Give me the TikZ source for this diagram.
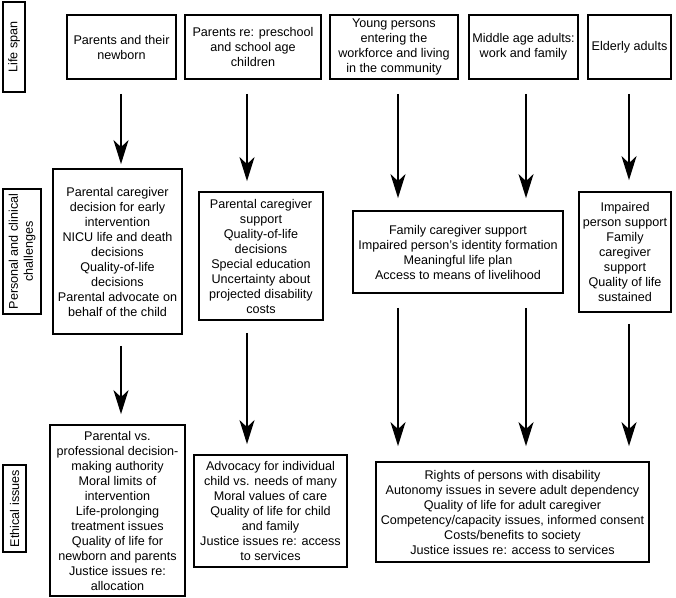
\documentclass[tikz,border=0pt]{standalone}
\usepackage{fontspec}
\setmainfont{Liberation Sans}
\usetikzlibrary{arrows.meta}
\begin{document}
\begin{tikzpicture}[x=1pt,y=-1pt,
  box/.style={draw,line width=1.8pt,align=center,inner sep=0pt,font=\fontsize{12.6}{15}\selectfont},
  side/.style={box,rotate=90},
  arr/.style={line width=1.8pt,-{Stealth[length=24pt,width=15pt,inset=7pt]}}]
\useasboundingbox (0,0) rectangle (676,597);
% column positions
\coordinate (c1) at (121,0);
\coordinate (c2) at (247,0);
\coordinate (c3) at (398,0);
\coordinate (c4) at (526,0);
\coordinate (c5) at (629,0);
% side labels
\node[side,minimum width=90,minimum height=22] (L1) at (14,47) {Life span};
\node[side,minimum width=125,minimum height=38] (L2) at (22,251.5) {Personal and clinical\\challenges};
\node[side,minimum width=87,minimum height=23] (L3) at (14.5,508.5) {Ethical issues};
% top row
\node[box,minimum width=109,minimum height=64] (T1) at (121.5,47) {Parents and their\\newborn};
\node[box,minimum width=136,minimum height=64] (T2) at (253,47) {Parents re: preschool\\and school age\\children};
\node[box,minimum width=128,minimum height=64] (T3) at (394,47) {Young persons\\entering the\\workforce and living\\in the community};
\node[box,minimum width=109,minimum height=64] (T4) at (523.5,47) {Middle age adults:\\work and family};
\node[box,minimum width=83,minimum height=64] (T5) at (629.5,47) {Elderly adults};
% middle row
\node[box,minimum width=129,minimum height=165] (M1) at (117.5,251.5) {Parental caregiver\\decision for early\\intervention\\NICU life and death\\decisions\\Quality-of-life\\decisions\\Parental advocate on\\behalf of the child};
\node[box,minimum width=124,minimum height=128] (M2) at (261,256) {Parental caregiver\\support\\Quality-of-life\\decisions\\Special education\\Uncertainty about\\projected disability\\costs};
\node[box,minimum width=210,minimum height=82] (M3) at (458,252) {Family caregiver support\\Impaired person's identity formation\\Meaningful life plan\\Access to means of livelihood};
\node[box,minimum width=92,minimum height=120] (M5) at (625,252) {Impaired\\person support\\Family\\caregiver\\support\\Quality of life\\sustained};
% bottom row
\node[box,minimum width=135,minimum height=171] (B1) at (117.5,510.5) {Parental vs.\\professional decision-\\making authority\\Moral limits of\\intervention\\Life-prolonging\\treatment issues\\Quality of life for\\newborn and parents\\Justice issues re:\\allocation};
\node[box,minimum width=153,minimum height=112] (B2) at (270.5,511) {Advocacy for individual\\child vs. needs of many\\Moral values of care\\Quality of life for child\\and family\\Justice issues re: access\\to services};
\node[box,minimum width=273,minimum height=100] (B3) at (512.5,512) {Rights of persons with disability\\Autonomy issues in severe adult dependency\\Quality of life for adult caregiver\\Competency/capacity issues, informed consent\\Costs/benefits to society\\Justice issues re: access to services};
% arrows top -> middle
\draw[arr,shorten <=14pt,shorten >=4pt] (T1.south -| c1) -- (M1.north -| c1);
\draw[arr,shorten <=14pt,shorten >=10pt] (T2.south -| c2) -- (M2.north -| c2);
\draw[arr,shorten <=14pt,shorten >=12pt] (T3.south -| c3) -- (M3.north -| c3);
\draw[arr,shorten <=14pt,shorten >=12pt] (T4.south -| c4) -- (M3.north -| c4);
\draw[arr,shorten <=14pt,shorten >=11pt] (T5.south -| c5) -- (M5.north -| c5);
% arrows middle -> bottom
\draw[arr,shorten <=11pt,shorten >=10pt] (M1.south -| c1) -- (B1.north -| c1);
\draw[arr,shorten <=12pt,shorten >=10pt] (M2.south -| c2) -- (B2.north -| c2);
\draw[arr,shorten <=14pt,shorten >=15pt] (M3.south -| c3) -- (B3.north -| c3);
\draw[arr,shorten <=14pt,shorten >=15pt] (M3.south -| c4) -- (B3.north -| c4);
\draw[arr,shorten <=11pt,shorten >=15pt] (M5.south -| c5) -- (B3.north -| c5);
\end{tikzpicture}
\end{document}
